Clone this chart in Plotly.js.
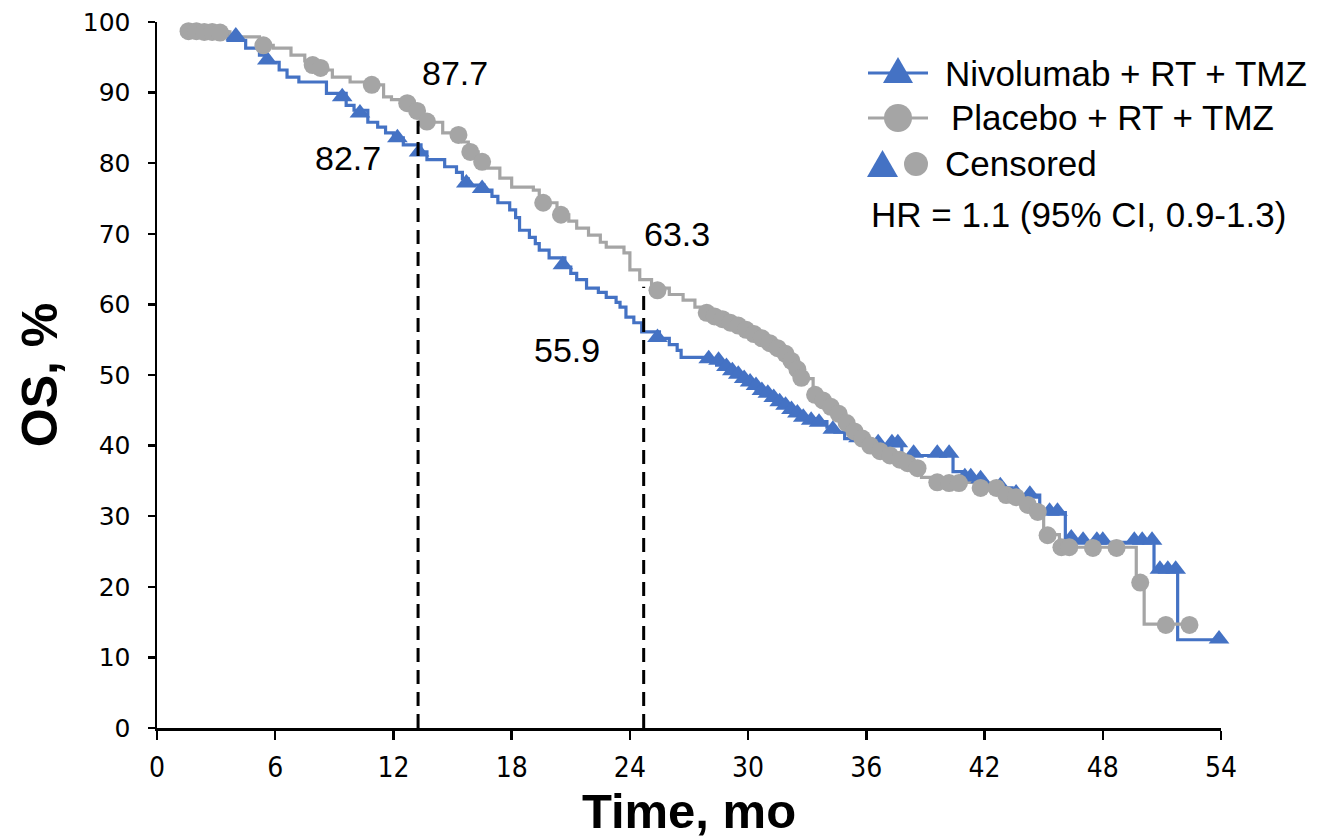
<!DOCTYPE html>
<html>
<head>
<meta charset="utf-8">
<script src="https://cdn.plot.ly/plotly-3.0.1.min.js"></script>
<style>html,body{margin:0;padding:0;background:#fff;}#chart{width:1332px;height:838px;}</style>
</head>
<body>
<div id="chart"></div>
<script>
// Nivolumab + RT + TMZ: KM step points (time, survival %)
const nivoTime = [1.6, 3.6, 4.5, 5.2, 5.6, 6.2, 6.6, 7.2, 8.6, 9.6, 10.0, 10.7, 11.2, 11.6, 12.0, 12.5, 13.4, 13.7, 14.6, 15.2, 15.5, 15.8, 16.6, 17.0, 17.3, 17.9, 18.2, 18.4, 18.9, 19.2, 19.4, 19.9, 20.7, 21.0, 21.3, 21.8, 22.4, 22.8, 23.3, 23.5, 23.8, 24.2, 24.6, 25.5, 26.0, 26.4, 26.6, 28.0, 28.4, 28.8, 29.2, 29.6, 30.0, 30.4, 30.8, 31.2, 31.6, 32.0, 32.4, 32.8, 33.4, 34.0, 34.4, 34.9, 35.6, 36.0, 37.8, 40.4, 41.0, 42.0, 42.6, 43.4, 44.8, 46.1, 50.6, 51.8, 54.0];
const nivoSurv = [98.6, 97.4, 96.3, 95.3, 94.3, 93.2, 92.2, 91.5, 89.9, 88.2, 87.5, 85.8, 85.1, 84.3, 83.6, 82.6, 81.6, 80.5, 79.5, 78.7, 77.8, 76.9, 76.2, 75.3, 74.4, 73.4, 72.3, 70.5, 69.5, 68.6, 67.7, 66.6, 65.3, 64.4, 63.5, 62.3, 61.7, 61.0, 60.3, 59.6, 58.2, 57.4, 56.1, 55.2, 54.3, 53.5, 52.5, 52.0, 51.4, 50.8, 50.1, 49.4, 48.8, 48.0, 47.3, 46.6, 45.9, 45.2, 44.5, 43.8, 43.4, 42.6, 41.9, 41.0, 40.4, 40.0, 38.6, 36.3, 35.3, 34.6, 34.0, 33.0, 30.5, 26.3, 22.2, 12.5, 12.5];
const nivoCensTime = [4.0, 5.6, 9.4, 10.3, 12.2, 13.3, 15.7, 16.5, 20.6, 25.4, 28.0, 28.5, 28.9, 29.2, 29.5, 29.8, 30.1, 30.4, 30.7, 31.0, 31.3, 31.6, 31.9, 32.2, 32.5, 32.8, 33.2, 33.6, 34.3, 35.6, 36.6, 37.3, 37.6, 38.4, 39.6, 40.2, 41.0, 41.3, 41.8, 42.8, 43.6, 44.3, 45.3, 45.7, 46.4, 47.0, 47.7, 48.0, 49.6, 50.0, 50.5, 50.9, 51.3, 51.7, 53.9];
const nivoCensSurv = [98.0, 94.6, 89.4, 87.1, 83.6, 81.6, 77.2, 76.4, 65.6, 55.3, 52.3, 52.1, 51.2, 50.6, 50.1, 49.5, 49.0, 48.5, 47.8, 47.4, 46.8, 46.2, 45.7, 45.1, 44.6, 44.0, 43.6, 43.3, 42.3, 41.1, 40.4, 40.4, 40.4, 38.9, 38.9, 38.9, 35.6, 35.6, 35.3, 34.3, 33.3, 33.1, 30.7, 30.7, 26.9, 26.6, 26.6, 26.6, 26.6, 26.6, 26.6, 22.5, 22.5, 22.5, 12.6];

// Placebo + RT + TMZ: KM step points (time, survival %)
const placTime = [1.6, 3.7, 5.2, 5.9, 6.8, 7.5, 7.9, 8.5, 8.9, 9.8, 10.6, 11.5, 11.9, 12.5, 13.0, 13.4, 13.8, 14.5, 15.5, 15.8, 16.3, 16.8, 17.4, 18.0, 19.1, 19.4, 19.7, 20.3, 20.9, 21.3, 21.9, 22.5, 22.8, 23.7, 24.0, 24.5, 25.1, 26.0, 26.7, 27.3, 27.8, 28.3, 28.8, 29.3, 29.8, 30.3, 30.8, 31.3, 31.8, 32.2, 32.6, 33.3, 33.8, 34.3, 34.6, 35.2, 35.6, 36.2, 36.8, 37.5, 38.4, 38.8, 39.4, 41.5, 43.0, 43.6, 44.2, 44.7, 45.0, 45.8, 49.7, 50.1, 52.4];
const placSurv = [98.6, 97.9, 96.7, 96.3, 95.3, 94.5, 93.8, 93.2, 92.2, 91.5, 91.1, 89.4, 89.0, 88.5, 87.7, 86.6, 85.8, 84.3, 83.0, 81.6, 80.5, 79.3, 77.9, 76.6, 76.2, 75.2, 74.4, 72.7, 71.8, 70.8, 69.8, 68.8, 68.1, 67.3, 64.9, 63.5, 62.3, 61.4, 60.6, 59.6, 58.8, 58.2, 57.6, 57.0, 56.3, 55.5, 54.6, 53.6, 52.5, 51.2, 49.5, 47.2, 46.0, 44.8, 43.6, 42.0, 40.8, 39.6, 38.8, 38.0, 37.0, 35.5, 34.8, 34.2, 33.2, 32.7, 31.6, 30.6, 27.4, 25.6, 20.6, 14.7, 14.7];
const placCensTime = [1.6, 2.0, 2.4, 2.8, 3.2, 5.4, 7.9, 8.3, 10.9, 12.7, 13.2, 13.7, 15.3, 15.9, 16.5, 19.6, 20.5, 25.4, 27.9, 28.3, 28.7, 29.1, 29.5, 29.9, 30.3, 30.7, 31.1, 31.5, 31.9, 32.2, 32.5, 32.7, 33.4, 33.8, 34.2, 34.6, 35.0, 35.4, 35.8, 36.2, 36.7, 37.2, 37.7, 38.1, 38.6, 39.6, 40.2, 40.7, 41.8, 42.6, 43.1, 43.6, 44.2, 44.7, 45.2, 45.9, 46.3, 47.5, 48.7, 49.9, 51.2, 52.4];
const placCensSurv = [98.7, 98.7, 98.6, 98.6, 98.5, 96.7, 93.9, 93.5, 91.1, 88.5, 87.4, 85.9, 84.0, 81.6, 80.2, 74.4, 72.7, 62.0, 58.8, 58.3, 57.9, 57.4, 57.0, 56.4, 55.8, 55.2, 54.5, 53.8, 53.0, 52.0, 50.8, 49.6, 47.2, 46.4, 45.5, 44.5, 43.2, 42.0, 41.0, 40.0, 39.2, 38.6, 38.0, 37.5, 36.8, 34.8, 34.7, 34.7, 34.0, 34.0, 33.0, 32.7, 31.6, 30.6, 27.3, 25.6, 25.6, 25.5, 25.5, 20.6, 14.6, 14.6];

// Landmark values
const landmarkTime = [13.25, 24.7];
const nivoLandmark = ["82.7", "55.9"];
const placLandmark = ["87.7", "63.3"];

const xTicks = [0, 6, 12, 18, 24, 30, 36, 42, 48, 54];
const yTicks = [0, 10, 20, 30, 40, 50, 60, 70, 80, 90, 100];

const BLUE = '#4472C4', GREY = '#A5A5A5';

const traces = [
  {x: nivoTime, y: nivoSurv, mode: 'lines', line: {shape: 'hv', color: BLUE, width: 3.2}, hoverinfo: 'skip', cliponaxis: false},
  {x: placTime, y: placSurv, mode: 'lines', line: {shape: 'hv', color: GREY, width: 3.2}, hoverinfo: 'skip', cliponaxis: false},
  {x: nivoCensTime, y: nivoCensSurv, mode: 'markers', marker: {symbol: 'triangle-up', size: 18, color: BLUE}, cliponaxis: false},
  {x: placCensTime, y: placCensSurv, mode: 'markers', marker: {symbol: 'circle', size: 18, color: GREY}, cliponaxis: false}
];

// legend helpers (pixel -> paper)
const L = 157, T = 22, W = 1064, H = 706;
const px = v => (v - L) / W;
const py = v => (T + H - v) / H;

const shapes = [
  {type: 'line', xref: 'x', yref: 'y', x0: landmarkTime[0], x1: landmarkTime[0], y0: 0, y1: 86, line: {color: '#000', width: 3, dash: '14px,8px'}},
  {type: 'line', xref: 'x', yref: 'y', x0: landmarkTime[1], x1: landmarkTime[1], y0: 0, y1: 62.5, line: {color: '#000', width: 3, dash: '14px,8px'}},
  // legend glyphs
  {type: 'line', xref: 'paper', yref: 'paper', x0: px(868), x1: px(928), y0: py(73), y1: py(73), line: {color: BLUE, width: 3.2}},
  {type: 'path', xref: 'paper', yref: 'paper', path: `M ${px(883)},${py(83)} L ${px(913)},${py(83)} L ${px(898)},${py(57)} Z`, fillcolor: BLUE, line: {width: 0}},
  {type: 'line', xref: 'paper', yref: 'paper', x0: px(868), x1: px(928), y0: py(118), y1: py(118), line: {color: GREY, width: 3.2}},
  {type: 'circle', xref: 'paper', yref: 'paper', x0: px(884), x1: px(912), y0: py(132), y1: py(104), fillcolor: GREY, line: {width: 0}},
  {type: 'path', xref: 'paper', yref: 'paper', path: `M ${px(867)},${py(177)} L ${px(898)},${py(177)} L ${px(882.5)},${py(150)} Z`, fillcolor: BLUE, line: {width: 0}},
  {type: 'circle', xref: 'paper', yref: 'paper', x0: px(904), x1: px(928), y0: py(176), y1: py(152), fillcolor: GREY, line: {width: 0}}
];

const txtFont = {family: 'Liberation Sans, Arial, sans-serif', size: 34, color: '#000'};
const legFont = {family: 'Liberation Sans, Arial, sans-serif', size: 35, color: '#000'};
const annotations = [
  {x: 15.1, y: 92.8, xref: 'x', yref: 'y', xanchor: 'center', yanchor: 'middle', text: placLandmark[0], showarrow: false, font: txtFont},
  {x: 9.7, y: 80.7, xref: 'x', yref: 'y', xanchor: 'center', yanchor: 'middle', text: nivoLandmark[0], showarrow: false, font: txtFont},
  {x: 26.4, y: 70.0, xref: 'x', yref: 'y', xanchor: 'center', yanchor: 'middle', text: placLandmark[1], showarrow: false, font: txtFont},
  {x: 20.8, y: 53.5, xref: 'x', yref: 'y', xanchor: 'center', yanchor: 'middle', text: nivoLandmark[1], showarrow: false, font: txtFont},
  {x: px(943), y: py(73), xref: 'paper', yref: 'paper', xanchor: 'left', yanchor: 'middle', text: 'Nivolumab + RT + TMZ', showarrow: false, font: legFont},
  {x: px(949), y: py(118), xref: 'paper', yref: 'paper', xanchor: 'left', yanchor: 'middle', text: 'Placebo + RT + TMZ', showarrow: false, font: legFont},
  {x: px(943), y: py(163), xref: 'paper', yref: 'paper', xanchor: 'left', yanchor: 'middle', text: 'Censored', showarrow: false, font: legFont},
  {x: px(869), y: py(214), xref: 'paper', yref: 'paper', xanchor: 'left', yanchor: 'middle', text: 'HR = 1.1 (95% CI, 0.9-1.3)', showarrow: false, font: legFont}
];

const layout = {
  width: 1332, height: 838,
  margin: {l: L, r: 1332 - L - W, t: T, b: 838 - T - H, pad: 0},
  paper_bgcolor: '#fff', plot_bgcolor: '#fff',
  showlegend: false,
  xaxis: {
    range: [0, 54], tickvals: xTicks, ticktext: xTicks.map(String),
    ticks: 'outside', ticklen: 9, tickwidth: 2.5, tickcolor: '#000',
    showline: true, linecolor: '#000', linewidth: 2.5, showgrid: false, zeroline: false,
    tickfont: {family: 'Liberation Sans Narrow, DejaVu Sans Condensed, sans-serif', size: 28, color: '#000'},
    ticklabelstandoff: 4,
    title: {text: '<b>Time, mo</b>', font: {family: 'Liberation Sans, Arial, sans-serif', size: 49, color: '#000'}, standoff: 9},
    automargin: false
  },
  yaxis: {
    range: [0, 100], tickvals: yTicks, ticktext: yTicks.map(String),
    ticks: 'outside', ticklen: 7, tickwidth: 2.5, tickcolor: '#000',
    showline: true, linecolor: '#000', linewidth: 2.5, showgrid: false, zeroline: false,
    tickfont: {family: 'Verdana, DejaVu Sans, sans-serif', size: 25, color: '#000'},
    ticklabelstandoff: 12,
    title: {text: '<b>OS, %</b>', font: {family: 'Liberation Sans, Arial, sans-serif', size: 50, color: '#000'}, standoff: 10},
    automargin: false
  },
  shapes: shapes,
  annotations: annotations
};

Plotly.newPlot('chart', traces, layout, {staticPlot: true, displayModeBar: false});
</script>
</body>
</html>
